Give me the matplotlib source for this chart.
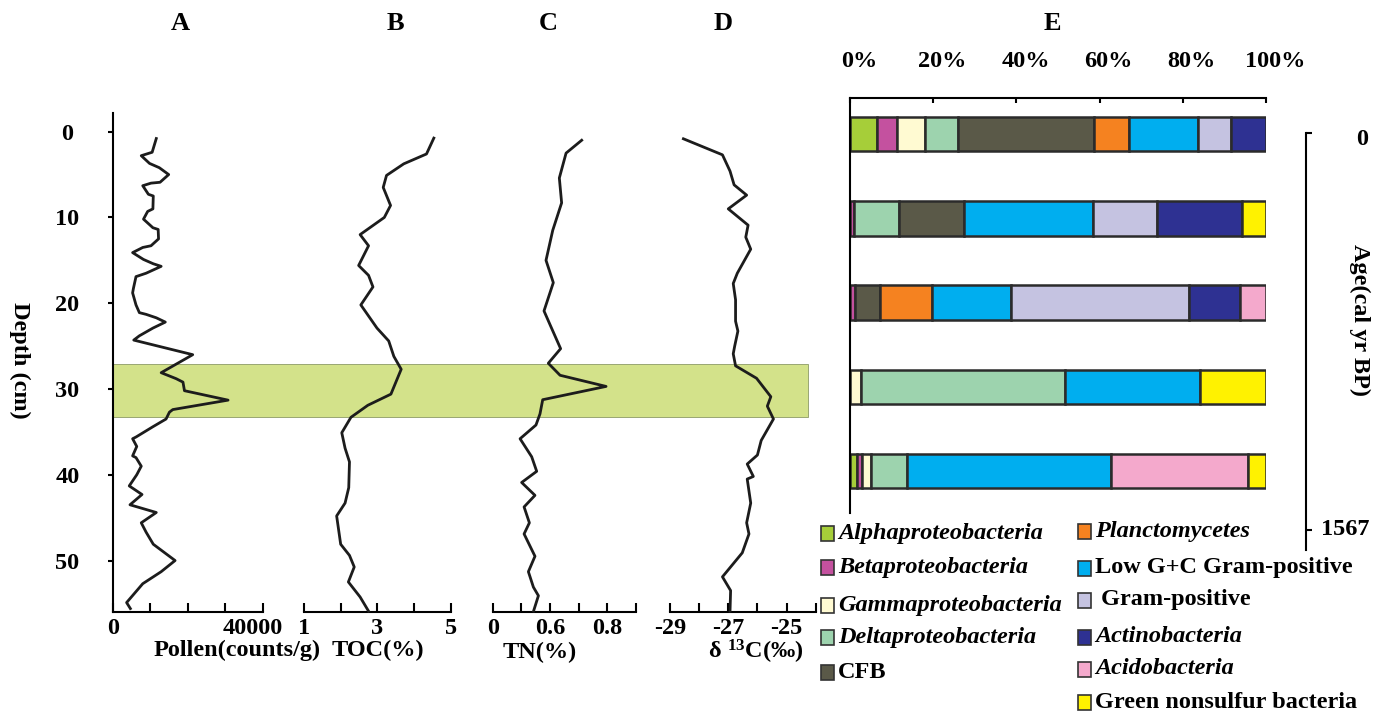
import matplotlib
matplotlib.use('Agg')
import matplotlib.pyplot as plt
from matplotlib.patches import Rectangle
from matplotlib.transforms import blended_transform_factory, ScaledTranslation

plt.rcParams['font.family'] = ['Liberation Serif', 'DejaVu Serif']
plt.rcParams['font.weight'] = 'bold'
plt.rcParams['mathtext.fontset'] = 'custom'
plt.rcParams['mathtext.rm'] = 'Liberation Serif'
plt.rcParams['mathtext.bf'] = 'Liberation Serif:bold'
plt.rcParams['mathtext.it'] = 'Liberation Serif:italic'

# ---- depth profiles (cm) ----
pollen_depth = [0.8, 2.4, 2.8, 3.7, 4.2, 5.0, 5.9, 6.0, 6.3, 7.3, 7.5, 9.0, 9.3, 10.2,
                11.2, 11.4, 12.5, 13.3, 13.5, 14.1, 14.9, 15.4, 15.7, 16.5, 16.9, 18.3,
                18.8, 20.2, 21.1, 21.3, 21.7, 22.2, 22.9, 23.8, 24.3, 26.0, 27.1, 28.1,
                28.8, 29.2, 30.2, 31.3, 32.4, 32.7, 33.5, 34.4, 35.6, 35.8, 36.7, 37.8,
                38.0, 39.0, 40.0, 41.3, 42.3, 43.5, 44.4, 45.6, 46.7, 48.1, 50.0, 51.3,
                52.7, 54.9, 55.6]
pollen = [11600, 10500, 7600, 9800, 12400, 14900, 12600, 10200, 8000, 9500, 10800,
          10700, 9300, 8200, 10700, 12100, 12200, 10200, 8000, 5300, 8200, 10800, 12900,
          8900, 6200, 5500, 5300, 6200, 7100, 8900, 11600, 14000, 10700, 7100, 5600,
          21300, 16900, 12900, 16900, 18700, 19100, 30700, 16000, 15100, 14200, 10700,
          6200, 5300, 6400, 5300, 6200, 7600, 6400, 4400, 7800, 4600, 11600, 7600, 8900,
          10800, 16600, 12900, 8000, 3700, 4700]

toc_depth = [0.75, 2.6, 3.75, 5.1, 6.5, 8.6, 10.0, 12.0, 13.3, 15.6, 16.75, 18.1, 20.2,
             22.9, 24.4, 26.2, 27.7, 30.6, 31.9, 33.3, 35.1, 36.9, 38.5, 41.5, 43.3,
             44.8, 48.1, 49.4, 50.75, 52.5, 54.25, 55.9]
toc = [4.54, 4.34, 3.72, 3.25, 3.16, 3.36, 3.19, 2.53, 2.76, 2.49, 2.76, 2.88, 2.55,
       2.99, 3.31, 3.45, 3.65, 3.37, 2.74, 2.28, 2.03, 2.12, 2.24, 2.22, 2.12, 1.89,
       2.0, 2.24, 2.37, 2.21, 2.53, 2.76]

tn_depth = [1.0, 2.5, 5.4, 8.3, 11.5, 15.0, 17.6, 20.9, 22.5, 25.3, 27.0, 28.4, 29.7,
            31.25, 32.9, 34.2, 35.8, 37.9, 39.6, 40.9, 42.4, 43.75, 45.6, 46.9, 49.5,
            51.3, 53.1, 54.1, 55.9]
tn = [0.621, 0.512, 0.465, 0.481, 0.419, 0.372, 0.423, 0.358, 0.40, 0.474, 0.388, 0.47,
      0.791, 0.349, 0.33, 0.302, 0.191, 0.272, 0.307, 0.202, 0.295, 0.219, 0.256, 0.219,
      0.295, 0.249, 0.284, 0.319, 0.285]

d13c_depth = [0.83, 2.7, 4.6, 6.2, 7.4, 9.0, 10.9, 12.3, 13.7, 16.5, 17.7, 19.6, 22.1,
              23.25, 25.0, 25.9, 27.3, 28.75, 30.9, 32.0, 33.5, 36.0, 37.7, 38.75, 40.2,
              40.5, 43.3, 45.6, 46.9, 49.1, 51.9, 53.5, 55.9]
d13c = [-28.54, -27.2, -26.94, -26.8, -26.37, -27.0, -26.32, -26.4, -26.23, -26.69,
        -26.83, -26.75, -26.75, -26.67, -26.78, -26.83, -26.75, -26.03, -25.54, -25.66,
        -25.45, -25.87, -26.0, -26.35, -26.14, -26.35, -26.23, -26.37, -26.29, -26.52,
        -27.2, -26.92, -26.94]

band_top, band_bottom = 27.05, 33.25

# ---- community composition (%) ----
taxa = ['Alphaproteobacteria', 'Betaproteobacteria', 'Gammaproteobacteria',
        'Deltaproteobacteria', 'CFB', 'Planctomycetes', 'Low G+C Gram-positive',
        ' Gram-positive', 'Actinobacteria', 'Acidobacteria', 'Green nonsulfur bacteria']
taxa_italic = [True, True, True, True, False, True, False, False, True, True, False]
taxa_colors = ['#a6ce39', '#c4519f', '#fffad2', '#9dd3ae', '#5a5948', '#f58220',
               '#00aeef', '#c5c3e1', '#2e3192', '#f4a9cc', '#fff200']
samples = [
    [6.6, 4.8, 6.7, 7.8, 32.8, 8.4, 16.6, 7.8, 8.5, 0, 0],
    [0, 1.0, 0, 10.8, 15.5, 0, 31.1, 15.4, 20.5, 0, 5.7],
    [0, 1.1, 0, 0, 6.0, 12.7, 19.0, 42.7, 12.3, 6.2, 0],
    [0, 0, 2.6, 49.0, 0, 0, 32.6, 0, 0, 0, 15.8],
    [1.7, 1.1, 2.3, 8.6, 0, 0, 49.1, 0, 0, 32.9, 4.3],
]
pct_ticks = [0, 20, 40, 60, 80, 100]
age_ticks = [0, 1567]

W, H = 1394, 713
fig = plt.figure(figsize=(W / 100, H / 100), dpi=100)


def ax_at(x0, y0, x1, y1):
    return fig.add_axes([x0 / W, 1 - y1 / H, (x1 - x0) / W, (y1 - y0) / H])


def px(x, y):
    return x / W, 1 - y / H


FS = 17.5
LC = '#1c1c1c'
ytop, ybot = 112.8, 612

# A..D profile panels
panels = [
    (112.7, 263, (0, 40000), [0, 40000], ['0', '40000'], [0, 10000, 20000, 30000, 40000],
     pollen, pollen_depth),
    (304, 450.7, (1, 5), [1, 3, 5], ['1', '3', '5'], [1, 2, 3, 4, 5], toc, toc_depth),
    (492.7, 636, (0, 1.0), [0, 0.4, 0.8], ['0', '0.6', '0.8'],
     [0, 0.2, 0.4, 0.6, 0.8, 1.0], tn, tn_depth),
    (670, 815.7, (-29, -24), [-29, -27, -25], ['-29', '-27', '-25'],
     [-29, -28, -27, -26, -25, -24], d13c, d13c_depth),
]
axes = []
for x0, x1, xlim, lt, ll, mt, vals, dep in panels:
    ax = ax_at(x0, ytop, x1, ybot)
    ax.set_facecolor('none')
    ax.set_xlim(*xlim)
    ax.set_ylim(56, -2.2)
    ax.plot(vals, dep, color=LC, lw=2.0, clip_on=False, zorder=3)
    for s in ['top', 'right', 'left']:
        ax.spines[s].set_visible(False)
    ax.spines['bottom'].set_linewidth(1.5)
    ax.set_xticks(mt)
    ax.set_xticklabels([ll[lt.index(t)] if t in lt else '' for t in mt])
    ax.tick_params(axis='x', direction='in', length=6.5, width=1.5, pad=4, labelsize=FS)
    ax.set_yticks([])
    axes.append(ax)

axA = axes[0]
axA.spines['left'].set_visible(True)
axA.spines['left'].set_linewidth(1.5)
axA.set_yticks([0, 10, 20, 30, 40, 50])
axA.tick_params(axis='y', direction='out', length=3.6, width=1.5, pad=29, labelsize=FS)
for t in axA.get_yticklabels():
    t.set_ha('center')
lab = axA.get_xticklabels()[-1]
lab.set_transform(lab.get_transform() + ScaledTranslation(-0.1, 0, fig.dpi_scale_trans))

# highlighted interval across A-D
band = Rectangle((0, band_top), (808 - 112.7) / (263 - 112.7), band_bottom - band_top,
                 transform=blended_transform_factory(axA.transAxes, axA.transData),
                 facecolor='#d3e28a', edgecolor='#8c9a66', lw=0.6, clip_on=False, zorder=0)
axA.add_patch(band)

# axis labels and titles
fig.text(*px(237, 650), 'Pollen(counts/g)', ha='center', va='center', fontsize=FS)
fig.text(*px(378, 650), 'TOC(%)', ha='center', va='center', fontsize=FS)
fig.text(*px(540, 652), 'TN(%)', ha='center', va='center', fontsize=FS)
fig.text(*px(756, 652), r'$\mathrm{δ\ }^{\mathbf{13}}\mathbf{C}\mathrm{(‰)}$',
         ha='center', va='center', fontsize=FS)
fig.text(*px(20, 360), 'Depth (cm)', rotation=270, ha='center', va='center', fontsize=FS)
for x, t in zip([180, 395, 548, 723, 1052], ['A', 'B', 'C', 'D', 'E']):
    fig.text(*px(x, 24), t, ha='center', va='center', fontsize=19)

# E: stacked bars
axE = ax_at(850, 98.3, 1266, 513)
axE.set_facecolor('none')
for i, row in enumerate(samples):
    left = 0
    for v, c in zip(row, taxa_colors):
        if v > 0:
            axE.barh(i, v, left=left, height=0.41, color=c, edgecolor='#2b2b2b', lw=1.8)
        left += v
axE.set_xlim(0, 100)
axE.set_ylim(4.496, -0.426)
axE.spines['right'].set_visible(False)
axE.spines['bottom'].set_visible(False)
axE.spines['top'].set_linewidth(1.5)
axE.spines['left'].set_linewidth(1.5)
axE.xaxis.tick_top()
axE.set_xticks(pct_ticks)
axE.set_xticklabels([f'{p}%' for p in pct_ticks])
axE.tick_params(axis='x', direction='in', length=3.5, width=1.5, pad=19, labelsize=FS)
for t in axE.get_xticklabels():
    t.set_transform(t.get_transform() + ScaledTranslation(0.09, 0, fig.dpi_scale_trans))
axE.set_yticks([])

# age scale
axAge = ax_at(1305.7, 133, 1312, 550)
axAge.set_facecolor('none')
axAge.set_ylim(1646, 0)
for s in ['top', 'right', 'bottom']:
    axAge.spines[s].set_visible(False)
axAge.spines['left'].set_linewidth(1.5)
axAge.set_xticks([])
axAge.set_yticks(age_ticks)
axAge.set_yticklabels([])
axAge.tick_params(axis='y', direction='in', length=4.5, width=1.5)
tr = blended_transform_factory(axAge.transAxes, axAge.transData)
for a, dx, dy in zip(age_ticks, [56, 40], [-5, 0]):
    axAge.annotate(str(a), xy=(0, a), xycoords=tr, xytext=(dx * 0.72, dy),
                   textcoords='offset points', ha='center', va='center', fontsize=FS)
fig.text(*px(1360, 320), 'Age(cal yr BP)', rotation=270, ha='center', va='center',
         fontsize=FS)

# legend
col_x = [821, 1078]
col_rows = [[533, 567, 605, 637, 672], [531, 568, 600, 637, 669, 702]]
k = 0
for cx, rows in zip(col_x, col_rows):
    for ry in rows:
        x0, y0 = px(cx, ry + 7.5)
        fig.add_artist(Rectangle((x0, y0), 13 / W, 15 / H, transform=fig.transFigure,
                                 facecolor=taxa_colors[k], edgecolor='#333333', lw=1.2))
        fig.text(*px(cx + 17, ry), taxa[k], ha='left', va='center', fontsize=FS,
                 style='italic' if taxa_italic[k] else 'normal', weight='bold')
        k += 1

fig.savefig('out.png', dpi=100)
